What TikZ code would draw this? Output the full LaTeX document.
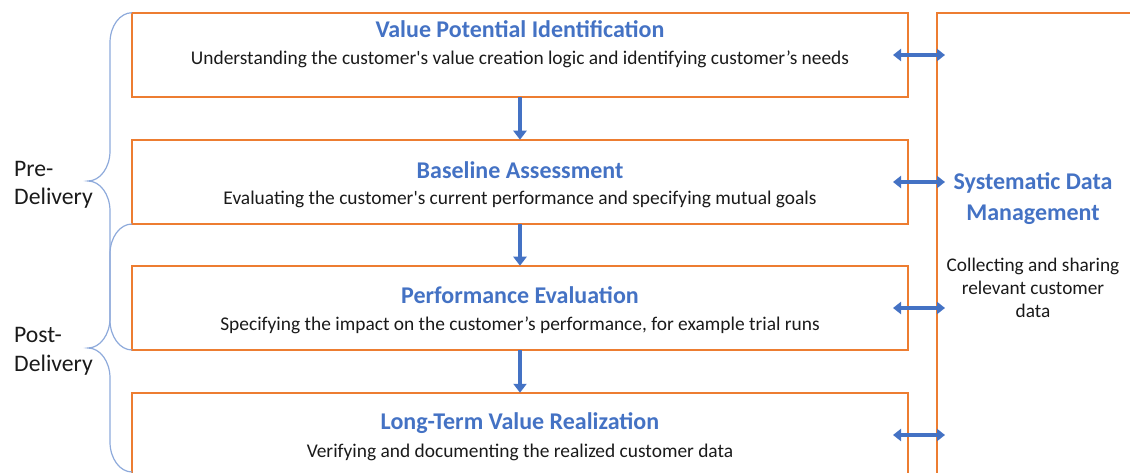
\documentclass[tikz,border=0pt]{standalone}
\usepackage{fontspec}
\setmainfont{Carlito}
\usetikzlibrary{arrows.meta,calc}
\definecolor{boxorange}{HTML}{ED7D31}
\definecolor{accentblue}{HTML}{4472C4}
\definecolor{bracecol}{HTML}{8EAADB}
\definecolor{bodytext}{HTML}{1A1A1A}
\newcommand{\sq}{\textquotesingle}
\begin{document}
\begin{tikzpicture}[x=1pt,y=-1pt,
  stage/.style={draw=boxorange,line width=1.8pt,minimum width=776pt,minimum height=84.5pt,inner sep=0pt,outer sep=0pt},
  stagetitle/.style={text=accentblue,font=\fontsize{24}{28}\selectfont\bfseries,inner sep=0pt,anchor=base},
  stagetext/.style={text=bodytext,font=\fontsize{19.4}{23}\selectfont,inner sep=0pt,anchor=base},
  paneltext/.style={text=bodytext,font=\fontsize{19.3}{23}\selectfont,inner sep=0pt,anchor=base},
  phase/.style={text=bodytext,font=\fontsize{23.7}{28}\selectfont,inner sep=0pt,anchor=base west},
  flow/.style={draw=accentblue,line width=3.5pt,-{Triangle[length=9pt,width=13pt]}},
  exchange/.style={draw=accentblue,line width=3.5pt,{Triangle[length=8pt,width=12pt]}-{Triangle[length=8pt,width=12pt]}},
  bracepath/.style={draw=bracecol,line width=1.2pt}]

\clip (0,0) rectangle (1130,473);

% side panel for data management (runs off the page to the right and bottom)
\node[draw=boxorange,line width=1.8pt,minimum width=220pt,minimum height=480pt,anchor=north west,inner sep=0pt,outer sep=0pt] (sdm) at (937,12.7) {};
\node[stagetitle] (sdmT1) at (1033,189.5) {Systematic Data};
\node[stagetitle] (sdmT2) at (1033,221) {Management};
\node[paneltext] (sdmD1) at (1033,271.5) {Collecting and sharing};
\node[paneltext] (sdmD2) at (1033,294.5) {relevant customer};
\node[paneltext] (sdmD3) at (1033,317.5) {data};

% the four stages
\node[stage] (b1) at (520,55) {};
\node[stage] (b2) at (520,182) {};
\node[stage] (b3) at (520,308) {};
\node[stage] (b4) at (520,435) {};

\node[stagetitle] (t1) at (520,37.5) {Value Potential Identification};
\node[stagetext]  (s1) at (520,65) {Understanding the customer\sq s value creation logic and identifying customer’s needs};
\node[stagetitle] (t2) at (520,178.5) {Baseline Assessment};
\node[stagetext]  (s2) at (520,204.5) {Evaluating the customer\sq s current performance and specifying mutual goals};
\node[stagetitle] (t3) at (520,303.5) {Performance Evaluation};
\node[stagetext]  (s3) at (520,330.5) {Specifying the impact on the customer’s performance, for example trial runs};
\node[stagetitle] (t4) at (520,429.5) {Long-Term Value Realization};
\node[stagetext]  (s4) at (520,457) {Verifying and documenting the realized customer data};

% sequence arrows
\draw[flow] (b1.south) -- (b2.north);
\draw[flow] (b2.south) -- (b3.north);
\draw[flow] (b3.south) -- (b4.north);

% data exchange with the side panel
\foreach \b in {b1,b2,b3,b4}{
  \draw[exchange] ([xshift=-15pt]\b.east) -- ([xshift=8pt]\b.east -| sdm.west);
}

% phase braces
\draw[bracepath] (132,12.7) .. controls (119.9,12.7) and (110,26.1) .. (110,42.7)
  -- (110,151) .. controls (110,167.6) and (100.1,181) .. (88,181)
  .. controls (100.1,181) and (110,194.4) .. (110,211)
  -- (110,320) .. controls (110,336.6) and (119.9,350) .. (132,350);
\draw[bracepath] (132,224) .. controls (119.9,224) and (110,237.4) .. (110,254)
  -- (110,318) .. controls (110,334.6) and (100.1,348) .. (88,348)
  .. controls (100.1,348) and (110,361.4) .. (110,378)
  -- (110,442) .. controls (110,458.6) and (119.9,472) .. (132,472);

\node[phase] (pre1) at (14,177) {Pre-};
\node[phase] (pre2) at (14,205) {Delivery};
\node[phase] (post1) at (14,342) {Post-};
\node[phase] (post2) at (14,371) {Delivery};
\end{tikzpicture}
\end{document}
